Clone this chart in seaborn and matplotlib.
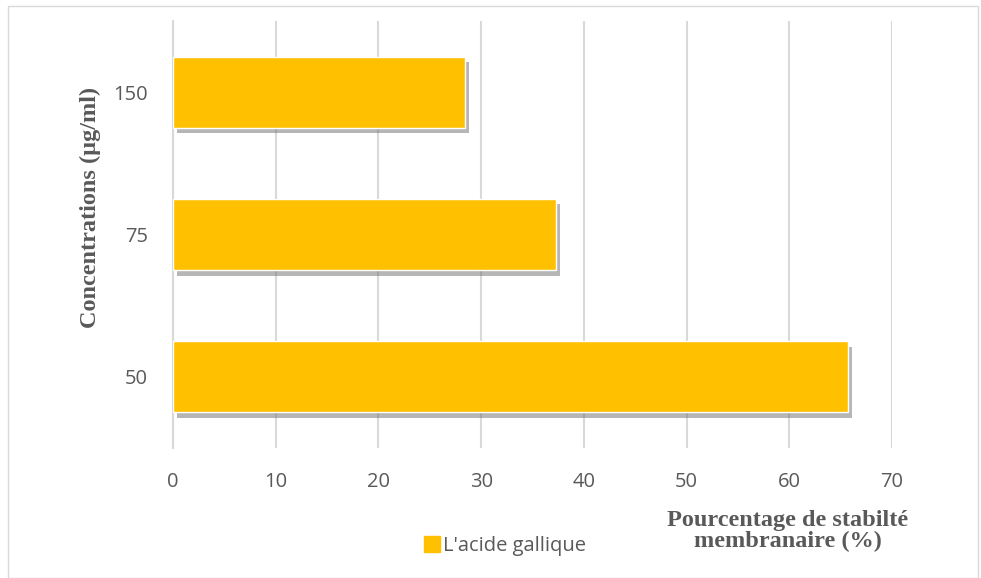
import pandas as pd
import seaborn as sns
import matplotlib.pyplot as plt
import matplotlib.patheffects as pe
from matplotlib.patches import Rectangle
from matplotlib.lines import Line2D

# values
concentrations = ["150", "75", "50"]
stability = [28.4, 37.3, 65.7]
series_name = "L'acide gallique"

df = pd.DataFrame({"Concentration": concentrations, "Stabilite": stability})

sns.set_style("white")
plt.rcParams['font.family'] = ['Open Sans', 'DejaVu Sans']

fig = plt.figure(figsize=(9.81, 5.78), dpi=100)
ax = fig.add_axes([173 / 981, 1 - 448 / 578, (892 - 173) / 981, (448 - 21) / 578])

bar_color = "#FFC000"
sns.barplot(data=df, x="Stabilite", y="Concentration", order=concentrations,
            orient="h", color=bar_color, saturation=1, width=0.5, ax=ax, zorder=3)
for p in ax.patches:
    p.set_path_effects([pe.SimplePatchShadow(offset=(3, -4), shadow_rgbFace="#6f6f6f", alpha=0.5),
                        pe.Normal()])

ax.set_xlim(0, 70)
ax.set_ylim(2.5, -0.5)
ax.set_xticks(range(0, 71, 10))
ax.xaxis.grid(True, color="#D9D9D9", linewidth=1.5, zorder=0)
ax.set_axisbelow(True)
for s in ["top", "right", "bottom"]:
    ax.spines[s].set_visible(False)
ax.spines["left"].set_color("#D9D9D9")
ax.spines["left"].set_linewidth(1.5)
ax.tick_params(axis="both", length=0, labelsize=14.5, colors="#595959")
ax.tick_params(axis="y", pad=18)
ax.tick_params(axis="x", pad=17)

ax.set_xlabel("")
ax.set_ylabel("")
fig.text(90 / 981, 1 - 207 / 578, "Concentrations (µg/ml)", rotation=90,
         family="Liberation Serif", fontweight="bold", fontsize=17.5, color="#595959",
         ha="center", va="center")
fig.text(788 / 981, 1 - 531 / 578, "Pourcentage de stabilté\nmembranaire (%)",
         family="Liberation Serif", fontweight="bold", fontsize=17.5, color="#595959",
         ha="center", va="center", linespacing=1.0)

handle = Line2D([], [], marker="s", linestyle="none", markersize=11,
                markerfacecolor=bar_color, markeredgecolor=bar_color)
fig.legend([handle], [series_name], loc="center", bbox_to_anchor=(504 / 981, 1 - 546 / 578),
           frameon=False, fontsize=14.5, handletextpad=0.05, handlelength=1.0,
           labelcolor="#595959")

# thin chart border
fig.patches.append(Rectangle((8 / 981, 0), 970 / 981, 1 - 6 / 578, transform=fig.transFigure,
                             fill=False, edgecolor="#D9D9D9", linewidth=1))

fig.savefig("out.png", dpi=100)
